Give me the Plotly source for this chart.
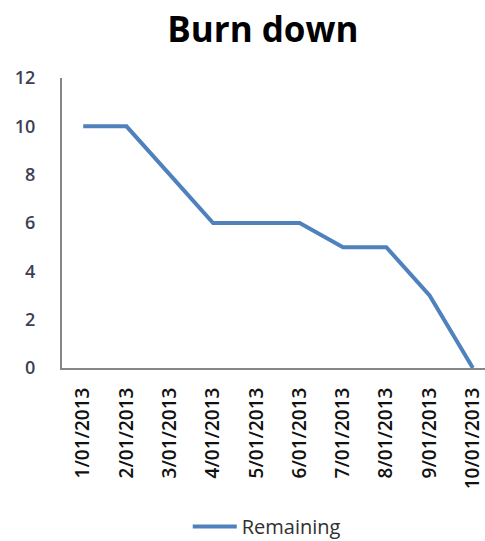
import plotly.graph_objects as go

dates = ["1/01/2013", "2/01/2013", "3/01/2013", "4/01/2013", "5/01/2013",
         "6/01/2013", "7/01/2013", "8/01/2013", "9/01/2013", "10/01/2013"]
remaining = [10, 10, 8, 6, 6, 6, 5, 5, 3, 0]
y_ticks = [0, 2, 4, 6, 8, 10, 12]

FONT = "Open Sans"

fig = go.Figure()
fig.add_trace(go.Scatter(
    x=list(range(len(dates))), y=remaining, mode="lines", name="Remaining",
    line=dict(color="#4F81BD", width=4), cliponaxis=False,
))

fig.update_layout(
    width=485, height=541,
    margin=dict(l=62, r=0, t=78, b=173),
    paper_bgcolor="white", plot_bgcolor="white",
    font=dict(family=FONT, color="#404040"),
    title=dict(text="<b>Burn down</b>", x=0.542, xanchor="center", xref="container",
               y=0.945, yanchor="middle", yref="container",
               font=dict(size=35, color="#000000", family=FONT)),
    showlegend=True,
    legend=dict(orientation="h", xref="container", x=0.55, xanchor="center",
                yref="container", y=0.027, yanchor="middle",
                font=dict(size=20, color="#303030"), itemwidth=44),
)
fig.update_xaxes(
    range=[-0.49, 9.28], tickmode="array", tickvals=list(range(len(dates))),
    ticktext=dates, tickangle=-90, showgrid=False, zeroline=False,
    showline=True, linecolor="#868686", linewidth=2, automargin=False,
    ticks="outside", ticklen=10, tickcolor="rgba(0,0,0,0)",
    ticklabeloverflow="allow",
    tickfont=dict(size=19, color="#111111", family=FONT, weight=600),
)
fig.update_yaxes(
    range=[0, 12], tickmode="array", tickvals=y_ticks, showgrid=False,
    zeroline=False, showline=True, linecolor="#868686", linewidth=2,
    automargin=False,
    ticks="outside", ticklen=21, tickcolor="rgba(0,0,0,0)",
    tickfont=dict(size=18, color="#3c3f55", family=FONT, weight=600),
)
fig.write_html("out.html", config={"displayModeBar": False},
               post_script="document.body.style.margin='0';")
